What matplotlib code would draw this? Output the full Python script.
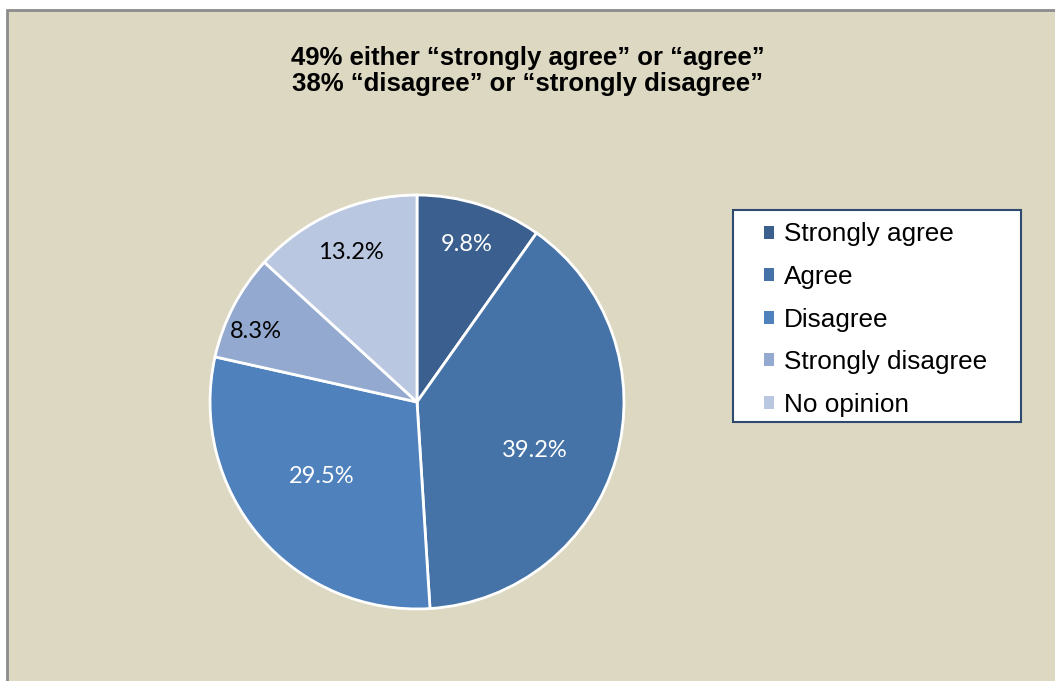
import matplotlib

matplotlib.use("Agg")
import matplotlib.pyplot as plt
from matplotlib.patches import Rectangle
import numpy as np

# survey answers, clockwise from 12 o'clock
labels = ["Strongly agree", "Agree", "Disagree", "Strongly disagree", "No opinion"]
shares = [9.8, 39.2, 29.5, 8.3, 13.2]
colors = ["#3B5F8E", "#4572A7", "#4F81BD", "#93A9CF", "#B9C7E1"]
text_colors = ["white", "white", "white", "black", "black"]
# label placement: fraction of radius, and nudge (deg) off the slice mid-angle
label_dist = [0.80, 0.614, 0.585, 0.85, 0.79]
label_nudge = [0.0, -6.7, -2.5, 3.8, 0.0]

title = "49% either \u201cstrongly agree\u201d or \u201cagree\u201d\n38% \u201cdisagree\u201d or \u201cstrongly disagree\u201d"

W, H = 1055, 681
fig = plt.figure(figsize=(W / 100, H / 100), dpi=100, facecolor="white")

# chart area panel (runs off the right and bottom edges)
fig.patches.append(Rectangle((7 / W, -0.05), 1.1, 1 - 10 / H + 0.05,
                             transform=fig.transFigure, facecolor="#DDD8C2",
                             edgecolor="#8C8C8C", linewidth=2, zorder=-5))

cx, cy, r = 417, 402, 208
ax = fig.add_axes([(cx - r) / W, (H - cy - r) / H, 2 * r / W, 2 * r / H])
ax.set_zorder(2)
wedges, _ = ax.pie(shares, colors=colors, startangle=90, counterclock=False,
                   radius=1.0, wedgeprops=dict(edgecolor="white", linewidth=2))
ax.set_xlim(-1.005, 1.005)
ax.set_ylim(-1.005, 1.005)
ax.axis("off")

# percentage labels
start = 90.0
for val, d, nudge, tc in zip(shares, label_dist, label_nudge, text_colors):
    mid = np.deg2rad(start - val * 3.6 / 2 + nudge)
    ax.text(d * np.cos(mid), d * np.sin(mid), f"{val:.1f}%", ha="center",
            va="center", color=tc, fontsize=17, family=["Lato", "DejaVu Sans"])
    start -= val * 3.6

fig.text(528 / W, 1 - 71 / H, title, ha="center", va="center", fontsize=18.5,
         fontweight="bold", family=["Liberation Sans", "DejaVu Sans"],
         linespacing=1.1)

# legend box drawn separately, entries placed inside it
fig.patches.append(Rectangle((733 / W, 1 - 422 / H), 288 / W, 212 / H,
                             transform=fig.transFigure, facecolor="white",
                             edgecolor="#2E4A6E", linewidth=1.5, zorder=1))
leg = fig.legend(wedges, labels, loc="upper left",
                 bbox_to_anchor=(764 / W, 1 - 222.5 / H), frameon=False,
                 handlelength=0.4, handleheight=0.4,
                 handletextpad=0.35, labelspacing=0.71, borderpad=0,
                 borderaxespad=0, prop={"family": "Liberation Sans", "size": 18.8})
leg.set_zorder(3)
for h in leg.legend_handles:
    h.set_edgecolor("none")

fig.savefig("out.png", dpi=100, facecolor="white")
